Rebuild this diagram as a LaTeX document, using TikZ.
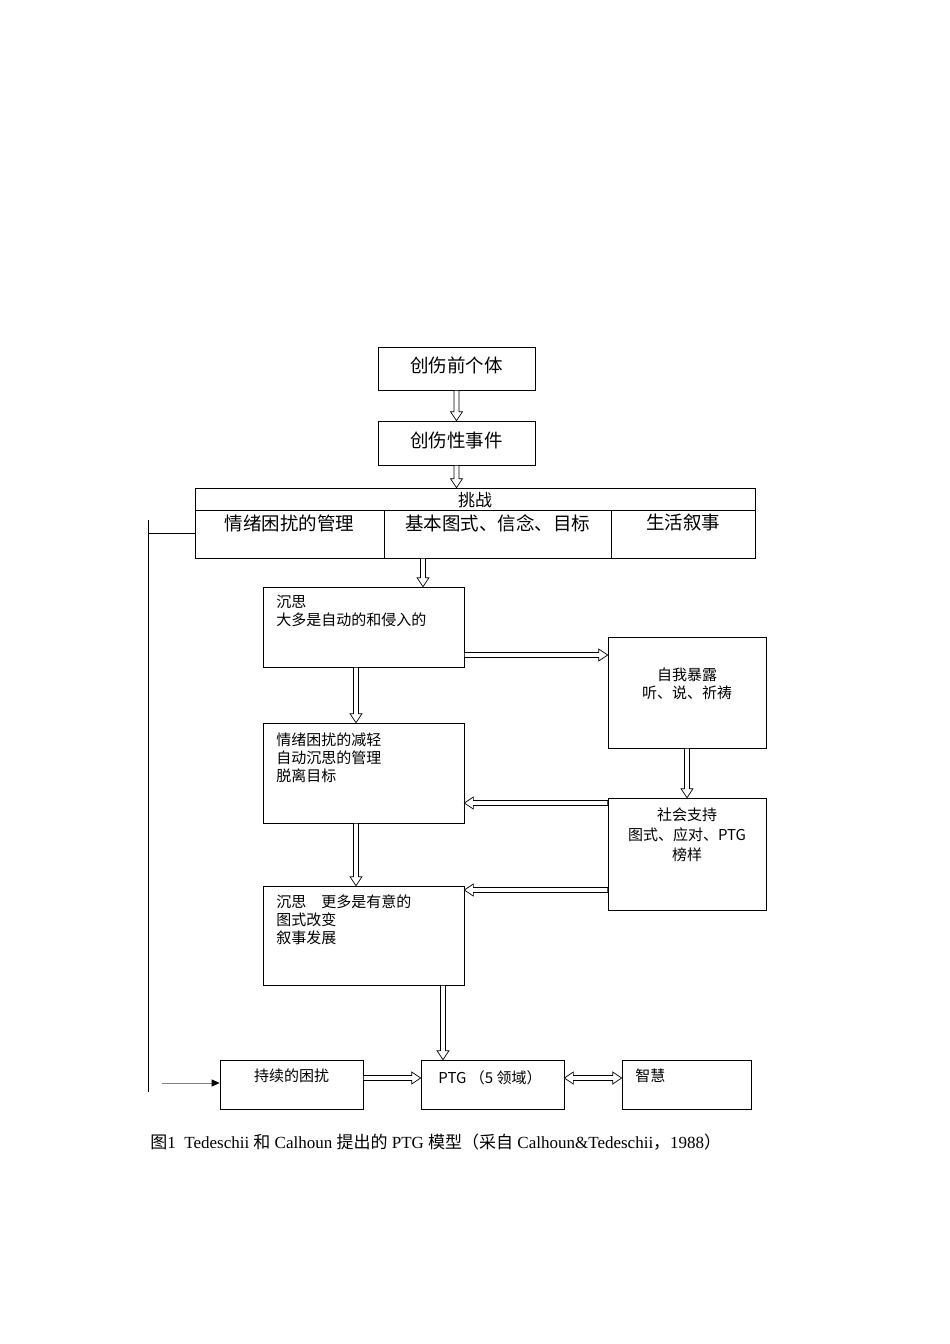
\documentclass[tikz,border=0pt]{standalone}
\usepackage{fontspec}
\setmainfont{Liberation Serif}
\newfontfamily\cjk{Noto Sans CJK SC}
\usetikzlibrary{positioning, calc, arrows.meta}

% hollow block arrow between two points
\newcommand\harrow[2]{%
  \coordinate (hA) at #1; \coordinate (hB) at #2;
  \coordinate (hC) at ($(hB)!9pt!(hA)$);
  \draw[fill=white] ($(hA)!2.5pt!90:(hB)$) -- ($(hC)!2.5pt!-90:(hA)$) -- ($(hC)!6pt!-90:(hA)$)
    -- (hB) -- ($(hC)!6pt!90:(hA)$) -- ($(hC)!2.5pt!90:(hA)$) -- ($(hA)!2.5pt!-90:(hB)$) -- cycle;}
% hollow block arrow with two heads
\newcommand\dharrow[2]{%
  \coordinate (hA) at #1; \coordinate (hB) at #2;
  \coordinate (hC) at ($(hB)!9pt!(hA)$); \coordinate (hD) at ($(hA)!9pt!(hB)$);
  \draw[fill=white] (hA) -- ($(hD)!6pt!90:(hB)$) -- ($(hD)!2.5pt!90:(hB)$) -- ($(hC)!2.5pt!-90:(hA)$) -- ($(hC)!6pt!-90:(hA)$)
    -- (hB) -- ($(hC)!6pt!90:(hA)$) -- ($(hC)!2.5pt!90:(hA)$) -- ($(hD)!2.5pt!-90:(hB)$) -- ($(hD)!6pt!-90:(hB)$) -- cycle;}

\begin{document}
\begin{tikzpicture}[x=1pt, y=-1pt,
    box/.style={draw, inner sep=0pt, line width=0.7pt},
    txt/.style={font=\cjk\fontsize{15}{18}\selectfont, inner sep=0pt, align=left},
    bigtxt/.style={font=\cjk\fontsize{18.5}{22}\selectfont, inner sep=0pt},
    every path/.style={line width=0.7pt}]
  \useasboundingbox (0,0) rectangle (950,1344);

  % boxes
  \node[box, minimum width=157pt, minimum height=43pt] (pre) at (456.5,368.5) {};
  \node[box, minimum width=157pt, minimum height=44pt] (event) at (456.5,443) {};
  \node[box, minimum width=560pt, minimum height=70pt] (chal) at (475,523) {};
  \draw (chal.north west) ++(0,23) -- ++(560,0);
  \draw (384,511) -- (chal.south -| 384,0);
  \draw (611,511) -- (chal.south -| 611,0);
  \node[box, minimum width=201pt, minimum height=80pt] (rum1) at (363.5,627) {};
  \node[box, minimum width=158pt, minimum height=111pt] (disc) at (687,692.5) {};
  \node[box, minimum width=201pt, minimum height=100pt] (redu) at (363.5,773) {};
  \node[box, minimum width=158pt, minimum height=112pt] (supp) at (687,854) {};
  \node[box, minimum width=201pt, minimum height=99pt] (rum2) at (363.5,935.5) {};
  \node[box, minimum width=143pt, minimum height=49pt] (dist) at (291.5,1084.5) {};
  \node[box, minimum width=143pt, minimum height=49pt] (ptg) at (492.5,1084.5) {};
  \node[box, minimum width=129pt, minimum height=49pt] (wis) at (686.5,1084.5) {};

  % texts
  \node[bigtxt] at (456.5,365) {创伤前个体};
  \node[bigtxt] at (456.5,440) {创伤性事件};
  \node[bigtxt, font=\cjk\fontsize{17}{20}\selectfont] at (475,500) {挑战};
  \node[bigtxt] at (289.5,523) {情绪困扰的管理};
  \node[bigtxt] at (497.5,523) {基本图式、信念、目标};
  \node[bigtxt] at (683,523) {生活叙事};
  \node[txt, anchor=north west] at (276,595) {沉思\\大多是自动的和侵入的};
  \node[txt, align=center] at (687,684) {自我暴露\\听、说、祈祷};
  \node[txt, anchor=north west] at (276,732) {情绪困扰的减轻\\自动沉思的管理\\脱离目标};
  \node[txt, align=center, font=\cjk\fontsize{15}{20}\selectfont] at (687,835) {社会支持\\图式、应对、PTG\\榜样};
  \node[txt, anchor=north west] at (276,894) {沉思\quad 更多是有意的\\图式改变\\叙事发展};
  \node[txt] at (291.5,1076) {持续的困扰};
  \node[txt] at (490,1078) {PTG （5 领域）};
  \node[txt, anchor=west] at (635,1076) {智慧};

  % arrows
  \harrow{(pre.south)}{(event.north)}
  \harrow{(event.south)}{(event.south |- chal.north)}
  \harrow{(chal.south -| 423,0)}{(rum1.north -| 423,0)}
  \harrow{(rum1.east |- 0,655)}{(disc.west |- 0,655)}
  \harrow{(rum1.south -| 356,0)}{(redu.north -| 356,0)}
  \harrow{(disc.south)}{(supp.north)}
  \harrow{(supp.west |- 0,803)}{(redu.east |- 0,803)}
  \harrow{(redu.south -| 356,0)}{(rum2.north -| 356,0)}
  \harrow{(supp.west |- 0,890)}{(rum2.east |- 0,890)}
  \harrow{(rum2.south -| 443,0)}{(ptg.north -| 443,0)}
  \harrow{(dist.east |- 0,1078)}{(ptg.west |- 0,1078)}
  \dharrow{(ptg.east |- 0,1078)}{(wis.west |- 0,1078)}

  % feedback line
  \coordinate (fbtop) at (148,520);
  \coordinate (fbbot) at (148,1092);
  \draw (fbtop) -- (fbbot);
  \draw (chal.west |- 0,533) -- (148,533);
  \coordinate (fbin) at (162,1083);
  \draw[gray, -{Triangle[black,length=8pt,width=7pt]}] (fbin) -- (dist.west |- fbin);

  % caption
  \node[anchor=west, inner sep=0pt, font=\fontsize{17}{20}\selectfont] (cap) at (150,1142)
    {{\cjk 图}1\ \ Tedeschii {\cjk 和} Calhoun {\cjk 提出的} PTG {\cjk 模型（采自} Calhoun\&Tedeschii{\cjk ，}1988{\cjk ）}};
\end{tikzpicture}
\end{document}
